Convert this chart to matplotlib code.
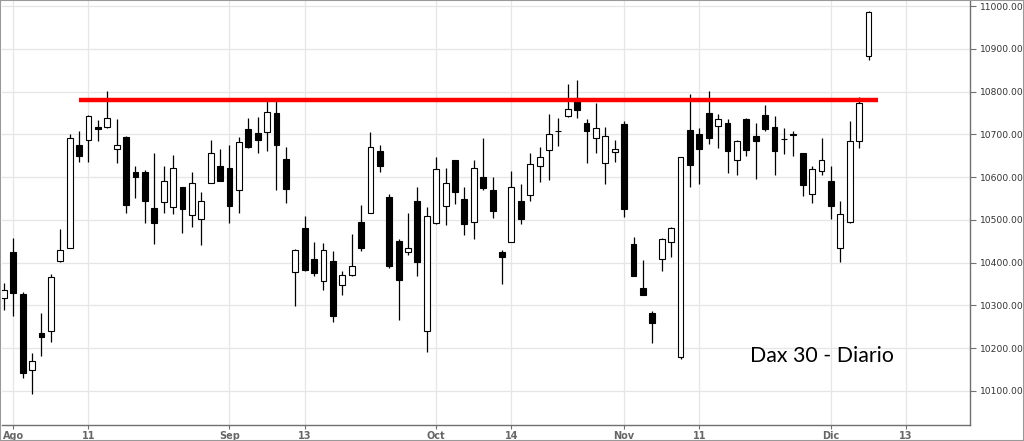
import matplotlib
matplotlib.use('Agg')

import numpy as np
import matplotlib.pyplot as plt
from matplotlib.patches import Rectangle

# daily DAX candles, index 0 = 29 Jul
opens = [10317, 10424, 10326, 10149, 10235, 10241, 10404, 10435, 10676, 10686,
         10718, 10717, 10665, 10693, 10612, 10612, 10527, 10541, 10530, 10576,
         10511, 10501, 10586, 10626, 10621, 10569, 10712, 10703, 10705, 10749,
         10642, 10378, 10482, 10409, 10358, 10403, 10347, 10371, 10494, 10517,
         10662, 10554, 10451, 10424, 10544, 10239, 10492, 10533, 10639, 10548,
         10494, 10600, 10570, 10424, 10448, 10544, 10558, 10626, 10664, 10709,
         10742, 10786, 10726, 10691, 10632, 10659, 10724, 10443, 10341, 10282,
         10408, 10448, 10180, 10710, 10701, 10749, 10720, 10726, 10639, 10735,
         10697, 10745, 10718, 10689, 10700, 10656, 10560, 10614, 10592, 10433,
         10494, 10684, 10883]
highs = [10353, 10457, 10330, 10188, 10282, 10373, 10478, 10701, 10708, 10745,
         10734, 10802, 10737, 10696, 10625, 10617, 10656, 10627, 10651, 10578,
         10612, 10565, 10687, 10666, 10675, 10693, 10739, 10740, 10777, 10781,
         10670, 10432, 10508, 10448, 10445, 10426, 10381, 10466, 10534, 10706,
         10675, 10561, 10455, 10517, 10576, 10530, 10646, 10621, 10640, 10576,
         10640, 10691, 10601, 10430, 10615, 10584, 10656, 10670, 10747, 10738,
         10819, 10827, 10735, 10773, 10718, 10687, 10731, 10459, 10406, 10287,
         10457, 10484, 10647, 10794, 10714, 10802, 10747, 10735, 10687, 10738,
         10726, 10768, 10743, 10716, 10709, 10657, 10625, 10692, 10627, 10544,
         10731, 10787, 10989]
lows = [10288, 10275, 10130, 10092, 10182, 10215, 10402, 10434, 10636, 10636,
        10685, 10714, 10634, 10516, 10550, 10492, 10444, 10517, 10514, 10470,
        10483, 10441, 10586, 10590, 10492, 10516, 10668, 10657, 10660, 10570,
        10539, 10299, 10381, 10369, 10336, 10261, 10325, 10369, 10427, 10517,
        10611, 10387, 10266, 10418, 10369, 10190, 10490, 10487, 10537, 10465,
        10455, 10569, 10504, 10350, 10448, 10491, 10543, 10589, 10593, 10673,
        10740, 10738, 10632, 10657, 10584, 10636, 10506, 10368, 10323, 10212,
        10381, 10414, 10174, 10576, 10584, 10678, 10667, 10609, 10605, 10650,
        10595, 10709, 10604, 10654, 10650, 10556, 10539, 10605, 10501, 10402,
        10493, 10669, 10874]
closes = [10336, 10328, 10141, 10169, 10225, 10366, 10429, 10691, 10649, 10742,
          10712, 10738, 10676, 10535, 10601, 10543, 10492, 10591, 10622, 10526,
          10587, 10544, 10656, 10591, 10533, 10683, 10670, 10687, 10753, 10674,
          10572, 10430, 10383, 10375, 10430, 10274, 10371, 10392, 10434, 10671,
          10626, 10392, 10360, 10435, 10402, 10508, 10618, 10586, 10566, 10490,
          10622, 10574, 10521, 10413, 10578, 10501, 10630, 10646, 10701, 10709,
          10760, 10757, 10709, 10716, 10695, 10665, 10525, 10369, 10324, 10258,
          10455, 10482, 10646, 10628, 10665, 10692, 10735, 10661, 10684, 10664,
          10685, 10713, 10661, 10689, 10699, 10581, 10618, 10639, 10533, 10513,
          10684, 10773, 10987]

tick_pos = [1, 9, 24, 32, 46, 54, 66, 74, 88, 96]
tick_labels = ['Ago', '11', 'Sep', '13', 'Oct', '14', 'Nov', '11', 'Dic', '13']
price_ticks = list(range(10100, 11001, 100))

resist_level = 10780
resist_start, resist_end = 8, 93

o = np.array(opens); h = np.array(highs); l = np.array(lows); c = np.array(closes)
x = np.arange(len(o))
up = c >= o

fig = plt.figure(figsize=(10.24, 4.41), dpi=100)
ax = fig.add_axes([0.0015, 0.0363, 0.9458, 0.9614])

ax.vlines(x, l, h, color='black', lw=0.9, zorder=2)
ax.bar(x[up], (c - o)[up], bottom=o[up], width=0.62, facecolor='white',
       edgecolor='black', lw=0.8, zorder=3)
ax.bar(x[~up], (o - c)[~up], bottom=c[~up], width=0.62, facecolor='black',
       edgecolor='black', lw=0.8, zorder=3)

ax.hlines(resist_level, resist_start, resist_end, color='#ff0000', lw=3.2, zorder=4)

ax.set_xlim(-0.25, 102.8)
ax.set_ylim(10020, 11012)
ax.yaxis.tick_right()
ax.set_yticks(price_ticks)
ax.set_yticklabels(['%.2f' % v for v in price_ticks])
ax.set_xticks(tick_pos)
ax.set_xticklabels(tick_labels, fontweight='bold')
ax.tick_params(axis='y', labelsize=6.6, colors='#707070', labelcolor='#333333', length=4, pad=3)
ax.tick_params(axis='x', labelsize=7, colors='#707070', labelcolor='#666666', length=3, pad=1.5)
ax.grid(True, color='#e6e6e6', lw=0.9, zorder=0)
ax.set_axisbelow(True)

for s in ['left', 'top']:
    ax.spines[s].set_visible(False)
for s in ['right', 'bottom']:
    ax.spines[s].set_color('#707070')
    ax.spines[s].set_linewidth(1.0)

ax.text(0.773, 0.163, 'Dax 30 - Diario', transform=ax.transAxes, ha='left', va='center',
        fontsize=15.3, family='Lato', color='black')

fig.patches.append(Rectangle((0, 0), 1, 1, transform=fig.transFigure, fill=False,
                             edgecolor='#999999', lw=1.5))

fig.savefig('out.png', dpi=100)
